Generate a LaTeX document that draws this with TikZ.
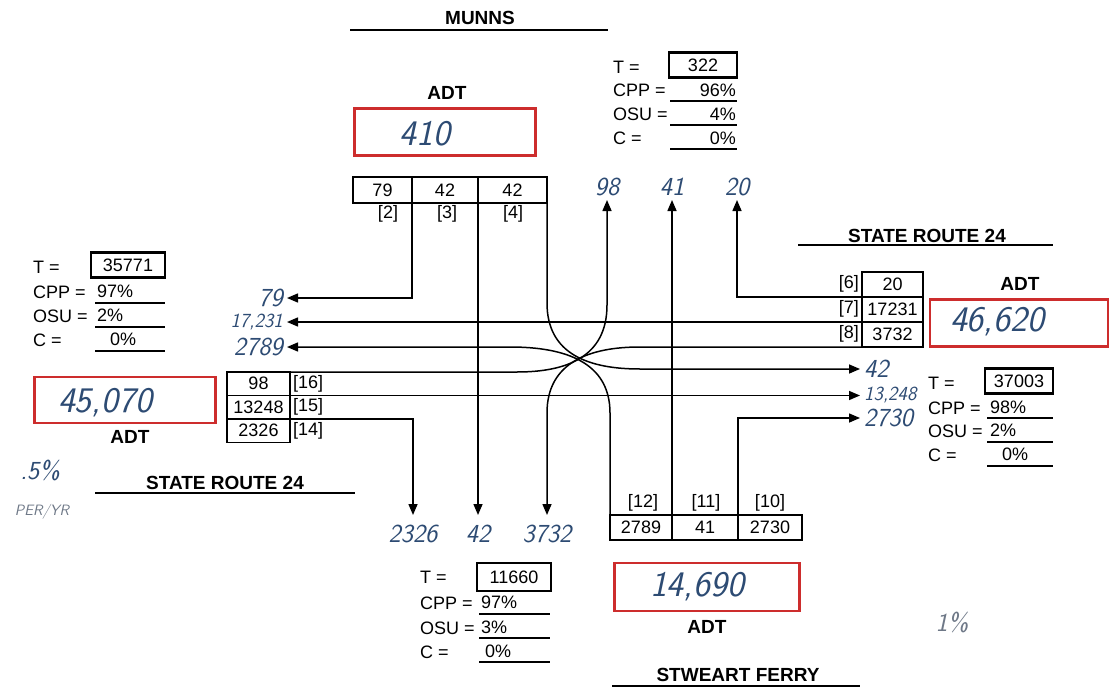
\documentclass[tikz,border=0pt]{standalone}
\usepackage{fontspec}
\setmainfont{Liberation Sans}
\usepackage{tikz}
\usetikzlibrary{arrows.meta,positioning}
\definecolor{Cr}{RGB}{205,45,45}
\definecolor{Cb}{RGB}{45,75,115}
\definecolor{Cg}{RGB}{110,120,135}

\begin{document}
\begin{tikzpicture}[x=1pt,y=-1pt,
    txt/.style={font=\fontsize{18}{20}\selectfont,inner sep=0pt},
    hdr/.style={font=\fontsize{19}{21}\selectfont\bfseries,inner sep=0pt},
    cell/.style={draw,line width=1.4pt,outer sep=0pt,inner sep=0pt,minimum height=25pt,txt},
    tbox/.style={draw,line width=2.6pt,inner sep=0pt,minimum height=25pt,txt},
    adtbox/.style={draw=Cr,line width=2.8pt,minimum width=181pt,minimum height=47pt},
    adtnum/.style={text=Cb,font=\fontsize{36}{38}\sffamily\slshape,inner sep=0pt},
    hand/.style={text=Cb,font=\fontsize{26}{28}\sffamily\slshape,inner sep=4pt},
    handb/.style={hand,anchor=north,inner ysep=10pt},
    flow/.style={line width=1.5pt,-{Triangle[length=11pt,width=9pt]}},
    uline/.style={line width=2.6pt},
    road/.style={line width=1.5pt}]
  \useasboundingbox (0,0) rectangle (1110,687);

  % road names
  \node[hdr] (munns) at (480,18) {MUNNS};
  \draw[road] (350,30) -- (608,30);
  \node[hdr] (srW) at (225,483) {STATE ROUTE 24};
  \draw[road] (95,493) -- (355,493);
  \node[hdr] (srE) at (927,236) {STATE ROUTE 24};
  \draw[road] (798,245) -- (1053,245);
  \node[hdr] (ferry) at (738,675) {STWEART FERRY};
  \draw[road] (612,686) -- (860,686);

  % ADT boxes
  \node[hdr] (adtN) at (447,93) {ADT};
  \node[adtbox] (adtNb) at (445,132) {};
  \node[adtnum] (adtNv) at (425,134) {410};
  \node[hdr] (adtW) at (130,437) {ADT};
  \node[adtbox,minimum height=46pt] (adtWb) at (125,400) {};
  \node[adtnum] (adtWv) at (105,403) {45,070};
  \node[hdr] (adtE) at (1020,284) {ADT};
  \node[adtbox,minimum width=178pt] (adtEb) at (1019,323) {};
  \node[adtnum] (adtEv) at (997,322) {46,620};
  \node[hdr] (adtS) at (707,627) {ADT};
  \node[adtbox,minimum width=185pt,minimum height=48pt] (adtSb) at (707,587) {};
  \node[adtnum] (adtSv) at (697,587) {14,690};

  % T blocks
  \node[txt,anchor=west] (tN) at (613,67) {T =};
  \node[tbox,minimum width=68pt] (tNv) at (703,65) {322};
  \node[txt,anchor=west] (cppN) at (613,90) {CPP =};
  \node[txt,anchor=east] (cppNv) at (736,90) {96\%};
  \node[txt,anchor=west] (osuN) at (613,114) {OSU =};
  \node[txt,anchor=east] (osuNv) at (736,114) {4\%};
  \node[txt,anchor=west] (cN) at (613,138) {C =};
  \node[txt,anchor=east] (cNv) at (736,138) {0\%};
  \foreach \y in {101,125,149} \draw[uline] (670,\y) -- (737,\y);

  \node[txt,anchor=west] (tW) at (33,267) {T =};
  \node[tbox,minimum width=74pt] (tWv) at (128,265) {35771};
  \node[txt,anchor=west] (cppW) at (33,292) {CPP =};
  \node[txt,anchor=west] (cppWv) at (97,291) {97\%};
  \node[txt,anchor=west] (osuW) at (33,316) {OSU =};
  \node[txt,anchor=west] (osuWv) at (97,315) {2\%};
  \node[txt,anchor=west] (cW) at (33,340) {C =};
  \node[txt,anchor=west] (cWv) at (110,339) {0\%};
  \foreach \y in {303,327,351} \draw[uline] (95,\y) -- (165,\y);

  \node[txt,anchor=west] (tE) at (928,383) {T =};
  \node[tbox,minimum width=68pt] (tEv) at (1019,381) {37003};
  \node[txt,anchor=west] (cppE) at (928,408) {CPP =};
  \node[txt,anchor=west] (cppEv) at (990,407) {98\%};
  \node[txt,anchor=west] (osuE) at (928,431) {OSU =};
  \node[txt,anchor=west] (osuEv) at (990,430) {2\%};
  \node[txt,anchor=west] (cE) at (928,455) {C =};
  \node[txt,anchor=west] (cEv) at (1002,454) {0\%};
  \foreach \y in {418,442,466} \draw[uline] (987,\y) -- (1053,\y);

  \node[txt,anchor=west] (tS) at (420,577) {T =};
  \node[tbox,minimum width=74pt,minimum height=28pt] (tSv) at (514,577) {11660};
  \node[txt,anchor=west] (cppS) at (420,603) {CPP =};
  \node[txt,anchor=west] (cppSv) at (481,602) {97\%};
  \node[txt,anchor=west] (osuS) at (420,628) {OSU =};
  \node[txt,anchor=west] (osuSv) at (481,627) {3\%};
  \node[txt,anchor=west] (cS) at (420,652) {C =};
  \node[txt,anchor=west] (cSv) at (485,651) {0\%};
  \foreach \y in {614,638,662} \draw[uline] (479,\y) -- (550,\y);

  % approach counts
  \node[cell,minimum width=59pt,minimum height=26pt] (s79) at (382.5,190) {79};
  \node[cell,minimum width=66pt,minimum height=26pt,right=0pt of s79] (s42a) {42};
  \node[cell,minimum width=69pt,minimum height=26pt,right=0pt of s42a] (s42b) {42};
  \node[txt] (l2) at (388,214) {[2]};
  \node[txt] (l3) at (447,214) {[3]};
  \node[txt] (l4) at (513,214) {[4]};

  \node[cell,minimum width=63pt,minimum height=23.5pt] (e98) at (258.5,383.75) {98};
  \node[cell,minimum width=63pt,minimum height=23.5pt,below=0pt of e98] (e13248) {13248};
  \node[cell,minimum width=63pt,minimum height=23.5pt,below=0pt of e13248] (e2326) {2326};
  \node[txt,anchor=west] (l16) at (293,384) {[16]};
  \node[txt,anchor=west] (l15) at (293,407) {[15]};
  \node[txt,anchor=west] (l14) at (293,431) {[14]};

  \node[cell,minimum width=61pt] (w20) at (892.5,284.5) {20};
  \node[cell,minimum width=61pt,below=0pt of w20] (w17231) {17231};
  \node[cell,minimum width=61pt,below=0pt of w17231] (w3732) {3732};
  \node[txt,anchor=east] (l6) at (859,284) {[6]};
  \node[txt,anchor=east] (l7) at (859,309) {[7]};
  \node[txt,anchor=east] (l8) at (859,334) {[8]};

  \node[cell,minimum width=62pt] (n2789) at (641,527.5) {2789};
  \node[cell,minimum width=66pt,right=0pt of n2789] (n41) {41};
  \node[cell,minimum width=64pt,right=0pt of n41] (n2730) {2730};
  \node[txt] (l12) at (643,503) {[12]};
  \node[txt] (l11) at (706,503) {[11]};
  \node[txt] (l10) at (770,503) {[10]};

  % departing counts
  \node[hand,anchor=south] (o98) at (607,200) {98};
  \node[hand,anchor=south] (o41) at (672,200) {41};
  \node[hand,anchor=south] (o20) at (737,200) {20};
  \node[hand,anchor=east] (o79) at (287,298) {79};
  \node[hand,anchor=east,font=\fontsize{20}{22}\sffamily\slshape] (o17231) at (287,322) {17,231};
  \node[hand,anchor=east] (o2789) at (287,347) {2789};
  \node[hand,anchor=west] (o42e) at (860,369) {42};
  \node[hand,anchor=west,font=\fontsize{20}{22}\sffamily\slshape] (o13248) at (860,395.5) {13,248};
  \node[hand,anchor=west] (o2730) at (860,418) {2730};
  \node[handb] (o2326) at (413,515) {2326};
  \node[handb] (o42s) at (478,515) {42};
  \node[handb] (o3732) at (547,515) {3732};

  % notes
  \node[hand] (rate) at (40,470) {.5\%};
  \node[hand,text=Cg,font=\fontsize{15}{17}\sffamily\slshape] (unit) at (42,512) {PER/YR};
  \node[hand,text=Cg] (rate2) at (952,622) {1\%};

  % movements
  \draw[flow] (s79.south east) |- (o79.east);
  \draw[flow] (s42a.south east) -- (o42s.north);
  \draw[flow] (s42b.south east) -- (547,303) .. controls (547,355) and (590,369) .. (640,369) -- (o42e.west);

  \draw[flow] (e98.north east) -- (517,372) .. controls (565,372) and (607,358) .. (607,305) -- (o98.south);
  \draw[flow] (e13248.north east) -- (o13248.west);
  \draw[flow] (e2326.north east) -| (o2326.north);

  \draw[flow] (w20.south west) -| (o20.south);
  \draw[flow] (w17231.south west) -- (o17231.east);
  \draw[flow] (w3732.south west) -- (640,347) .. controls (590,347) and (547,362) .. (547,413) -- (o3732.north);

  \draw[flow] (n2789.north west) -- (610,413) .. controls (610,362) and (565,347) .. (510,347) -- (o2789.east);
  \draw[flow] (n41.north west) -- (o41.south);
  \draw[flow] (n2730.north west) |- (o2730.west);
\end{tikzpicture}
\end{document}
